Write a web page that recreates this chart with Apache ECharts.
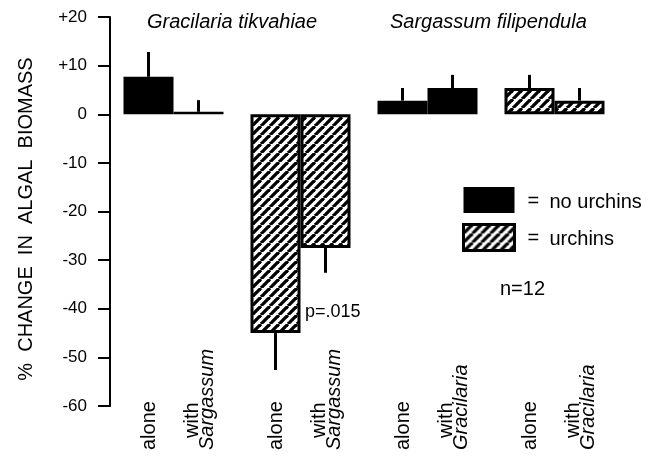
<!DOCTYPE html>
<html>
<head>
<meta charset="utf-8">
<script src="https://cdn.jsdelivr.net/npm/echarts@6/dist/echarts.min.js"></script>
<style>
  html, body { margin: 0; padding: 0; background: #fff; }
  #chart { width: 652px; height: 460px; }
</style>
</head>
<body>
<div id="chart"></div>
<script>
// Percent change in algal biomass for each species grown alone or with the other
// species, with and without urchins (mean + one-sided SE).
const groupNames = ['Gracilaria, no urchins', 'Gracilaria, urchins', 'Sargassum, no urchins', 'Sargassum, urchins'];
const urchinsPresent = [false, true, false, true];
const partnerSpecies = ['Sargassum', 'Sargassum', 'Gracilaria', 'Gracilaria'];
const aloneMean = [7.7, -45, 2.8, 5.4];
const aloneSE = [5.1, 7.6, 2.6, 2.7];
const withMean = [0.5, -27.5, 5.4, 2.8];
const withSE = [2.4, 5.1, 2.7, 2.6];
const neighbourLabels = ['alone', 'with'];
const yTickLabels = ['-60', '-50', '-40', '-30', '-20', '-10', '0', '+10', '+20'];
const speciesTitles = ['Gracilaria tikvahiae', 'Sargassum filipendula'];
const legendNames = ['no urchins', 'urchins'];
const pNote = 'p=.015';
const nNote = 'n=12';

const FONT = '"Liberation Sans", Arial, Helvetica, sans-serif';
const BAR_W = 50;

// diagonal hatch used for the urchin treatment
function makeHatch() {
  const s = 9;
  const c = document.createElement('canvas');
  c.width = s; c.height = s;
  const ctx = c.getContext('2d');
  ctx.fillStyle = '#fff';
  ctx.fillRect(0, 0, s, s);
  ctx.strokeStyle = '#000';
  ctx.lineWidth = 3.3;
  for (const k of [-s, 0, s]) {
    ctx.beginPath();
    ctx.moveTo(k, s);
    ctx.lineTo(k + s, 0);
    ctx.stroke();
  }
  return c;
}
const hatchFill = { image: makeHatch(), repeat: 'repeat' };
const solidStyle = { color: '#000', borderWidth: 0, opacity: 1 };
const hatchStyle = { color: hatchFill, borderColor: '#000', borderWidth: 3, opacity: 1 };

function barData(values) {
  return values.map((v, i) => ({ value: v, itemStyle: urchinsPresent[i] ? hatchStyle : solidStyle }));
}

// one-sided error bar drawn outward from the end of each bar
function errorSeries(means, ses, side) {
  return {
    type: 'custom',
    silent: true,
    z: 5,
    clip: false,
    encode: { x: 0, y: 1 },
    data: means.map((m, i) => [i, m, ses[i]]),
    renderItem: function (params, api) {
      const i = api.value(0), m = api.value(1), se = api.value(2);
      const tip = m + (m >= 0 ? se : -se);
      const p0 = api.coord([i, m]);
      const p1 = api.coord([i, tip]);
      const x = p0[0] + side * BAR_W / 2;
      return {
        type: 'line',
        shape: { x1: x, y1: p0[1], x2: x, y2: p1[1] },
        style: { stroke: '#000', lineWidth: 3 }
      };
    }
  };
}

const chart = echarts.init(document.getElementById('chart'), null, { renderer: 'canvas' });

const textBase = { color: '#000', fontFamily: FONT, fontWeight: 'normal' };

chart.setOption({
  backgroundColor: '#fff',
  animation: false,
  title: [
    { text: speciesTitles[0], left: 147, top: 12, padding: 0, textStyle: Object.assign({}, textBase, { fontSize: 20, fontStyle: 'italic' }) },
    { text: speciesTitles[1], left: 390, top: 12, padding: 0, textStyle: Object.assign({}, textBase, { fontSize: 20, fontStyle: 'italic' }) },
    { text: pNote, left: 305, top: 303, padding: 0, textStyle: Object.assign({}, textBase, { fontSize: 18 }) },
    { text: nNote, left: 500, top: 279, padding: 0, textStyle: Object.assign({}, textBase, { fontSize: 20 }) }
  ],
  legend: {
    orient: 'vertical',
    left: 462,
    top: 187,
    padding: 0,
    itemWidth: 51,
    itemHeight: 26,
    itemGap: 10,
    icon: 'rect',
    selectedMode: false,
    data: [
      { name: legendNames[0], itemStyle: { color: '#000', borderWidth: 0, opacity: 1 } },
      { name: legendNames[1], itemStyle: { color: hatchFill, borderColor: '#000', borderWidth: 3, opacity: 1 } }
    ],
    formatter: name => '{e|=}{n|' + name + '}',
    textStyle: {
      rich: {
        e: Object.assign({}, textBase, { fontSize: 20, width: 22, padding: [2, 0, 0, 8] }),
        n: Object.assign({}, textBase, { fontSize: 20, padding: [4, 0, 0, 0] })
      }
    }
  },
  grid: { left: 110, right: 34, top: 17, bottom: 54, containLabel: false, outerBoundsMode: 'none' },
  xAxis: {
    type: 'category',
    data: groupNames,
    offset: -56,
    axisLine: { show: false },
    axisTick: { show: false },
    splitLine: { show: false },
    axisLabel: {
      interval: 0,
      rotate: 90,
      margin: 0,
      padding: [0, 0, 18, 0],
      formatter: (v, i) => '{a|' + neighbourLabels[0] + '}\n{w|' + neighbourLabels[1] + '}\n{s|' + partnerSpecies[i] + '}',
      rich: {
        a: Object.assign({}, textBase, { fontSize: 20, lineHeight: 76, width: 100, align: 'left' }),
        w: Object.assign({}, textBase, { fontSize: 20, lineHeight: 10, width: 88, align: 'left', padding: [0, 0, 0, 12] }),
        s: Object.assign({}, textBase, { fontSize: 20, lineHeight: 20, width: 100, align: 'left', fontStyle: 'italic' })
      }
    }
  },
  yAxis: {
    type: 'value',
    min: -60,
    max: 20,
    interval: 10,
    name: '%  CHANGE  IN  ALGAL  BIOMASS',
    nameLocation: 'middle',
    nameRotate: 90,
    nameGap: 74,
    nameTextStyle: Object.assign({}, textBase, { fontSize: 20, padding: [0, 15, 0, 0] }),
    axisLine: { show: true, lineStyle: { color: '#000', width: 2 } },
    axisTick: { show: true, length: 12, lineStyle: { color: '#000', width: 2 } },
    splitLine: { show: false },
    axisLabel: Object.assign({}, textBase, {
      fontSize: 17,
      margin: 23,
      formatter: v => yTickLabels[Math.round((v + 60) / 10)]
    })
  },
  series: [
    { name: neighbourLabels[0], type: 'bar', barWidth: BAR_W, barGap: '0%', data: barData(aloneMean), silent: true },
    { name: neighbourLabels[1], type: 'bar', barWidth: BAR_W, barGap: '0%', data: barData(withMean), silent: true },
    errorSeries(aloneMean, aloneSE, -1),
    errorSeries(withMean, withSE, 1),
    { name: legendNames[0], type: 'scatter', data: [], itemStyle: { color: '#000', opacity: 1 } },
    { name: legendNames[1], type: 'scatter', data: [], itemStyle: { color: hatchFill, borderColor: '#000', borderWidth: 3, opacity: 1 } }
  ]
});
</script>
</body>
</html>
